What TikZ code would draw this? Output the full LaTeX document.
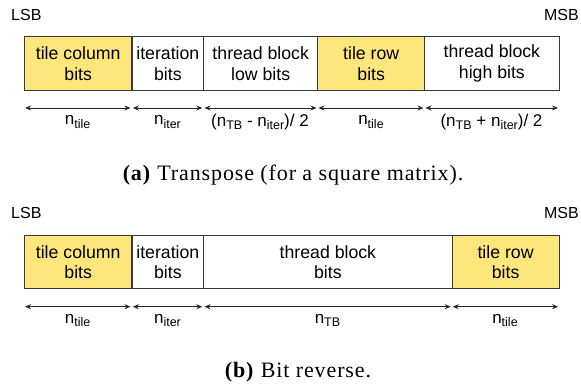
\documentclass[tikz,border=0pt]{standalone}
\usepackage{fontspec}
\newfontfamily\sansf{Liberation Sans}
\newfontfamily\capf[LetterSpace=4]{Liberation Serif}
\usetikzlibrary{arrows.meta}
\definecolor{tileyellow}{HTML}{FDE67C}
\definecolor{edge}{HTML}{3A3A3A}
\newcommand\nsb[1]{n\raisebox{-0.38ex}{\fontsize{12.5}{12.5}\selectfont #1}}
\tikzset{
  x=1pt, y=-1pt,
  fieldbox/.style={draw=edge, line width=0.8pt, inner sep=0pt, anchor=north west,
    minimum height=53.5pt, align=center, font=\sansf\fontsize{17.7}{20.5}\selectfont},
  tilebox/.style={fieldbox, fill=tileyellow},
  dimarr/.style={{Stealth[length=6pt,width=5pt]}-{Stealth[length=6pt,width=5pt]}, line width=0.8pt, draw=black!85},
  dimlabel/.style={font=\sansf\fontsize{17}{17}\selectfont, inner sep=0pt},
  endlabel/.style={font=\sansf\fontsize{16}{16}\selectfont, inner sep=0pt},
  caption/.style={font=\capf\fontsize{22}{24}\selectfont, inner sep=0pt}
}
\begin{document}
\begin{tikzpicture}
\useasboundingbox (0,0) rectangle (581,387);
% ---------- (a) ----------
\node[endlabel, anchor=west] (lsbA) at (11,15) {LSB};
\node[endlabel, anchor=east] (msbA) at (579,15) {MSB};
\node[tilebox, minimum width=107pt] (a1) at (24.3,36.5) {tile column\\bits};
\node[fieldbox, minimum width=71.7pt] (a2) at (131.6,36.5) {iteration\\bits};
\node[fieldbox, minimum width=114pt] (a3) at (203.3,36.5) {thread block\\low bits};
\node[tilebox, minimum width=107pt] (a4) at (317.3,36.5) {tile row\\bits};
\node[fieldbox, minimum width=134.4pt] (a5) at (424.3,36.5) {thread block\\high bits};
\foreach \i/\x in {0/25,1/130.5,2/132.8,3/202.3,4/204.5,5/316.5,6/318.5,7/423.5,8/425.5,9/558}{
  \coordinate (pa\i) at (\x,108);
}
\draw[dimarr] (pa0) -- (pa1);
\draw[dimarr] (pa2) -- (pa3);
\draw[dimarr] (pa4) -- (pa5);
\draw[dimarr] (pa6) -- (pa7);
\draw[dimarr] (pa8) -- (pa9);
\node[dimlabel] (la1) at (77.6,122) {\nsb{tile}};
\node[dimlabel] (la2) at (167.5,122) {\nsb{iter}};
\node[dimlabel] (la3) at (260,122) {(\nsb{TB} - \nsb{iter})/ 2};
\node[dimlabel] (la4) at (371,122) {\nsb{tile}};
\node[dimlabel] (la5) at (491.5,122) {(\nsb{TB} + \nsb{iter})/ 2};
\node[caption] (capA) at (293,175.5) {\textbf{(a)} Transpose (for a square matrix).};
% ---------- (b) ----------
\node[endlabel, anchor=west] (lsbB) at (11,213) {LSB};
\node[endlabel, anchor=east] (msbB) at (579,213) {MSB};
\node[tilebox, minimum width=107pt] (b1) at (24.3,235) {tile column\\bits};
\node[fieldbox, minimum width=71.7pt] (b2) at (131.6,235) {iteration\\bits};
\node[fieldbox, minimum width=248.4pt] (b3) at (203.3,235) {thread block\\bits};
\node[tilebox, minimum width=107pt] (b4) at (451.7,235) {tile row\\bits};
\foreach \i/\x in {0/25,1/130.5,2/132.8,3/202.3,4/204.5,5/450.7,6/452.7,7/558}{
  \coordinate (pb\i) at (\x,306.7);
}
\draw[dimarr] (pb0) -- (pb1);
\draw[dimarr] (pb2) -- (pb3);
\draw[dimarr] (pb4) -- (pb5);
\draw[dimarr] (pb6) -- (pb7);
\node[dimlabel] (lb1) at (77.6,320.5) {\nsb{tile}};
\node[dimlabel] (lb2) at (167.5,320.5) {\nsb{iter}};
\node[dimlabel] (lb3) at (327.5,320.5) {\nsb{TB}};
\node[dimlabel] (lb4) at (505,320.5) {\nsb{tile}};
\node[caption] (capB) at (298,372) {\textbf{(b)} Bit reverse.};
\end{tikzpicture}
\end{document}
